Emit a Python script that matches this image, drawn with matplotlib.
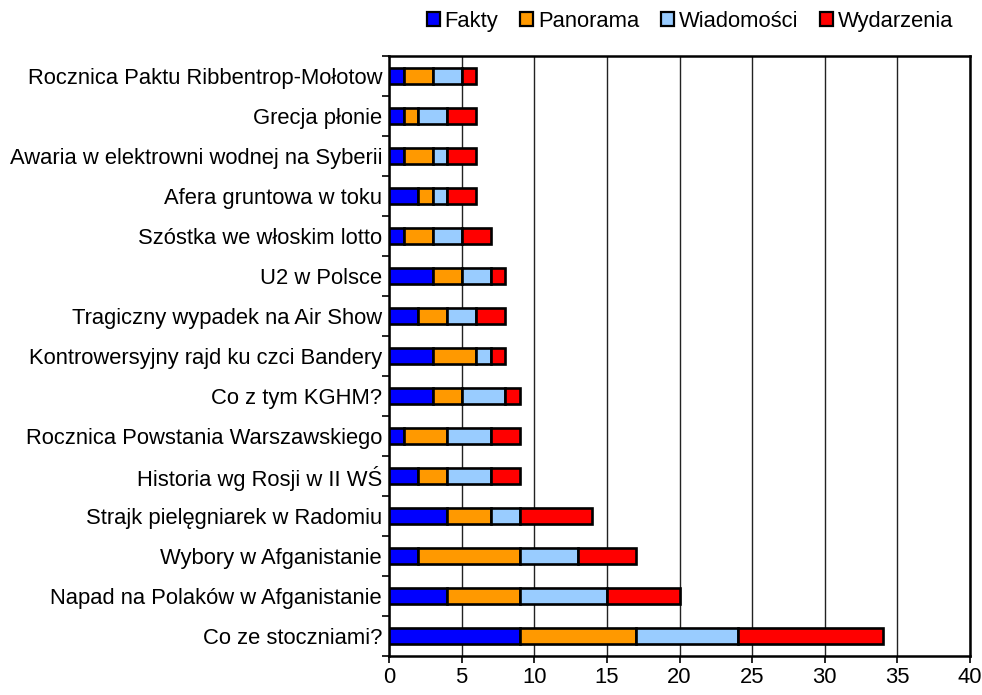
import matplotlib.pyplot as plt
import numpy as np

plt.rcParams.update({
    "font.family": ["Liberation Sans", "DejaVu Sans"],
    "font.size": 15.8,
})

# data, top row first
categories = [
    "Rocznica Paktu Ribbentrop-Mołotow",
    "Grecja płonie",
    "Awaria w elektrowni wodnej na Syberii",
    "Afera gruntowa w toku",
    "Szóstka we włoskim lotto",
    "U2 w Polsce",
    "Tragiczny wypadek na Air Show",
    "Kontrowersyjny rajd ku czci Bandery",
    "Co z tym KGHM?",
    "Rocznica Powstania Warszawskiego",
    "Historia wg Rosji w II WŚ",
    "Strajk pielęgniarek w Radomiu",
    "Wybory w Afganistanie",
    "Napad na Polaków w Afganistanie",
    "Co ze stoczniami?",
]
fakty = [1, 1, 1, 2, 1, 3, 2, 3, 3, 1, 2, 4, 2, 4, 9]
panorama = [2, 1, 2, 1, 2, 2, 2, 3, 2, 3, 2, 3, 7, 5, 8]
wiadomosci = [2, 2, 1, 1, 2, 2, 2, 1, 3, 3, 3, 2, 4, 6, 7]
wydarzenia = [1, 2, 2, 2, 2, 1, 2, 1, 1, 2, 2, 5, 4, 5, 10]

series = [
    ("Fakty", fakty, "#0000FF"),
    ("Panorama", panorama, "#FF9900"),
    ("Wiadomości", wiadomosci, "#99CCFF"),
    ("Wydarzenia", wydarzenia, "#FF0000"),
]

fig = plt.figure(figsize=(9.82, 6.95), dpi=100)
ax = fig.add_axes([389/982, 1 - 656/695, (970 - 389)/982, (656 - 56)/695])

y = np.arange(len(categories))
left = np.zeros(len(categories))
for name, vals, col in series:
    ax.barh(y, vals, left=left, height=0.4, color=col, edgecolor="black",
            linewidth=1.9, label=name, zorder=3)
    left += np.array(vals)

ax.set_xlim(0, 40)
ax.set_ylim(len(categories) - 0.5, -0.5)
ax.set_xticks(np.arange(0, 41, 5))
ax.set_yticks(y)
ax.set_yticklabels(categories)
ax.set_yticks(np.arange(-0.5, len(categories), 1), minor=True)
ax.tick_params(axis="y", which="major", length=0, pad=5)
ax.tick_params(axis="y", which="minor", length=5, width=1.2, direction="out")
ax.tick_params(axis="x", length=5, width=1.2, direction="out", pad=3)
ax.grid(axis="x", color="#222222", linewidth=1.0, zorder=0)

for s in ax.spines.values():
    s.set_linewidth(1.8)
    s.set_color("black")

leg = fig.legend(loc="upper center", bbox_to_anchor=(690/982, 1.006), ncol=4,
                 frameon=False, handlelength=0.6, handleheight=0.6,
                 handletextpad=0.2, columnspacing=1.0, borderaxespad=0.3)
for h in leg.legend_handles:
    h.set_linewidth(1.6)

fig.savefig("out.png", dpi=100)
